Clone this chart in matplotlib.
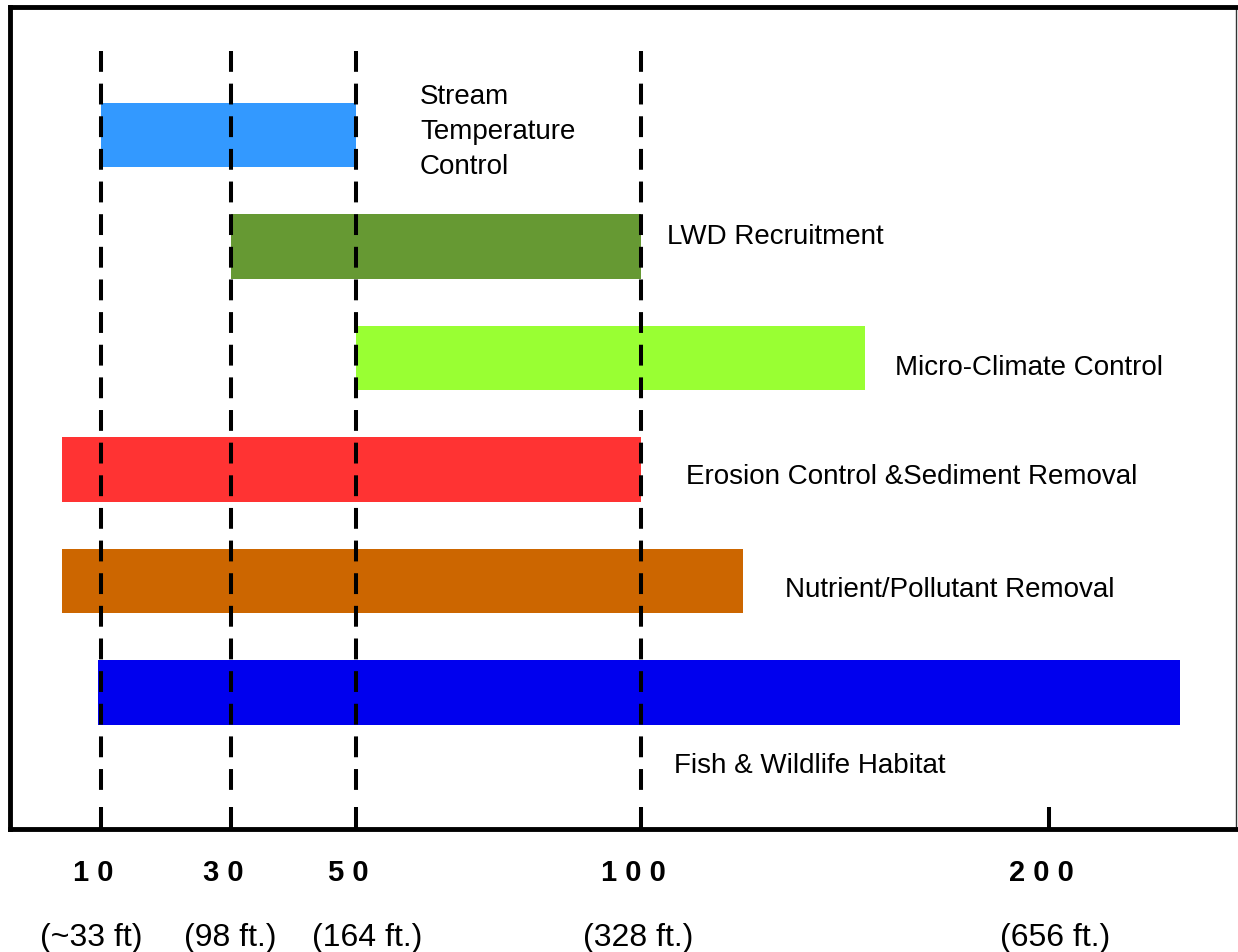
import numpy as np
import matplotlib
matplotlib.use("Agg")
import matplotlib.pyplot as plt
import matplotlib.transforms as mtransforms

# ---- data ----
functions = ["Stream\nTemperature\nControl", "LWD Recruitment", "Micro-Climate Control",
             "Erosion Control &Sediment Removal", "Nutrient/Pollutant Removal",
             "Fish & Wildlife Habitat"]
width_start = [10, 30, 50, 4, 4, 9.5]
width_end = [50, 100, 155, 100, 125, 232]
bar_colors = ["#3399FF", "#669933", "#99FF33", "#FF3333", "#CC6600", "#0000EE"]
tick_values = [10, 30, 50, 100, 200]
tick_labels = ["1 0", "3 0", "5 0", "1 0 0", "2 0 0"]
feet_labels = ["(~33 ft)", "(98 ft.)", "(164 ft.)", "(328 ft.)", "(656 ft.)"]
guide_values = [10, 30, 50, 100]

# ---- layout ----
label_pos = [(0.3344, 0.8491), (0.5359, 0.7214), (0.7219, 0.5620),
             (0.5514, 0.4294), (0.6321, 0.2920), (0.5416, 0.0780)]
feet_offsets_px = [-10, -1, 11, -3, 6]
ticklabel_offset_px = -8

# nonlinear (piecewise) x-scale as in the original drawing
knot_v = np.array([-10, 0, 10, 30, 50, 100, 200, 300], dtype=float)
knot_p = np.array([-55, 36, 101, 231, 356, 641, 1049, 1457], dtype=float)

def fwd(v):
    return np.interp(v, knot_v, knot_p)

def inv(p):
    return np.interp(p, knot_p, knot_v)

plt.rcParams['lines.scale_dashes'] = False
fig = plt.figure(figsize=(12.38, 9.53), dpi=100)
ax = fig.add_axes([10/1238, 1-830/953, 1226/1238, 822/953])
ax.set_xscale('function', functions=(fwd, inv))
ax.set_xlim(inv(10), inv(1236))
ax.set_ylim(6.224, -1.148)

rows = np.arange(len(functions))
ax.barh(rows, np.array(width_end) - np.array(width_start), left=width_start,
        height=0.58, color=bar_colors, zorder=2)

xt = ax.get_xaxis_transform()
for g in guide_values:
    ax.plot([g, g], [0.9465, 0.036], transform=xt, color="black", lw=2.9,
            dashes=(15, 8.5), solid_capstyle="butt", zorder=3)

for (txt, (lx, ly)) in zip(functions, label_pos):
    ax.text(lx, ly, txt, transform=ax.transAxes, ha="left", va="center",
            fontsize=20, family=["Liberation Sans", "DejaVu Sans"],
            linespacing=1.45, zorder=4)

ax.set_xticks(tick_values)
ax.set_xticklabels(tick_labels, fontsize=21, fontweight="bold",
                   family=["Liberation Sans", "DejaVu Sans"])
ax.tick_params(axis="x", direction="in", length=16, width=2.9, pad=21, color="black")
shift = mtransforms.ScaledTranslation(ticklabel_offset_px/100, 0, fig.dpi_scale_trans)
for lab in ax.get_xticklabels():
    lab.set_transform(lab.get_transform() + shift)
ax.set_yticks([])
for xv, fl, off in zip(tick_values, feet_labels, feet_offsets_px):
    tr = xt + mtransforms.ScaledTranslation(off/100, 0, fig.dpi_scale_trans)
    ax.text(xv, -0.131, fl, transform=tr, ha="center",
            va="center", fontsize=23,
            family=["Liberation Sans", "DejaVu Sans"],
            clip_on=False)

for s in ["left", "top", "bottom"]:
    ax.spines[s].set_linewidth(3.5)
    ax.spines[s].set_color("black")
ax.spines["right"].set_linewidth(1.0)
ax.spines["right"].set_color("#333333")

fig.savefig("out.png", dpi=100)
